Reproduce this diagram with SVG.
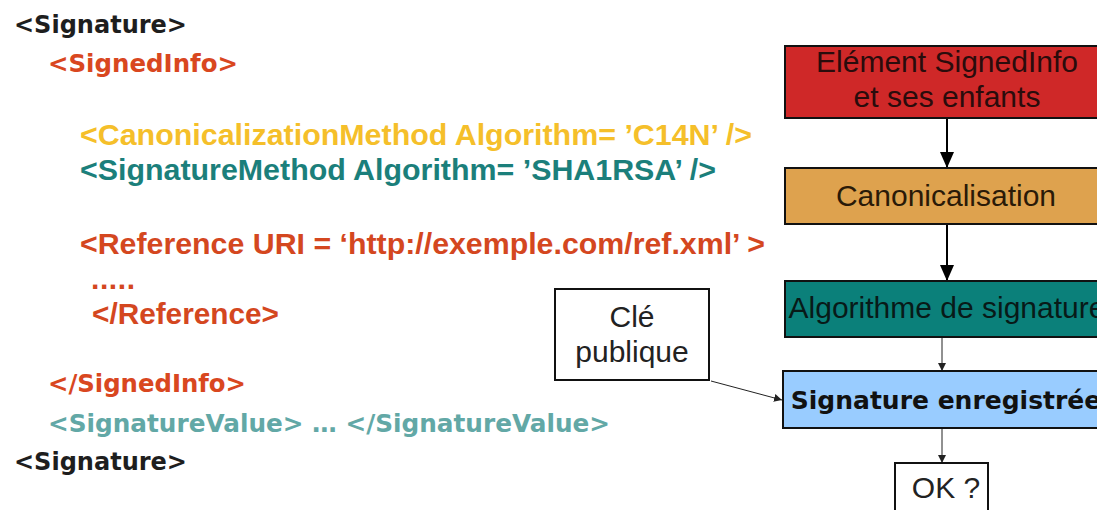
<svg xmlns="http://www.w3.org/2000/svg" width="1097" height="510" viewBox="0 0 1097 510">
  <style>
    .xmlA { font-family: "DejaVu Sans", "Verdana", sans-serif; font-weight: bold; font-size: 24px; }
    .xmlB { font-family: "Liberation Sans", Arial, sans-serif; font-weight: bold; font-size: 30px; }
    .lbl { font-family: "Liberation Sans", Arial, sans-serif; font-size: 30px; text-anchor: middle; }
    .lblB { font-family: "DejaVu Sans", "Verdana", sans-serif; font-weight: bold; font-size: 25px; text-anchor: middle; }
    .box { stroke: #111; stroke-width: 2; }
    .thick { stroke: #000; stroke-width: 2; fill: none; }
    .thin { stroke: #222; stroke-width: 1; fill: none; }
  </style>
  <defs>
    <marker id="headBig" markerUnits="userSpaceOnUse" viewBox="0 0 16 14" markerWidth="16" markerHeight="14" refX="16" refY="7" orient="auto">
      <path d="M0,0 L16,7 L0,14 Z" fill="#000"/>
    </marker>
    <marker id="headSmall" markerUnits="userSpaceOnUse" viewBox="0 0 8 8" markerWidth="8" markerHeight="8" refX="8" refY="4" orient="auto">
      <path d="M0,0 L8,4 L0,8 Z" fill="#222"/>
    </marker>
  </defs>

  <rect width="1097" height="510" fill="#fff"/>

  <!-- XML listing -->
  <g id="xml-listing">
    <text class="xmlA" x="14" y="33" fill="#1e1e1e" textLength="173" lengthAdjust="spacingAndGlyphs">&lt;Signature&gt;</text>
    <text class="xmlA" x="48" y="72" fill="#d9471f" textLength="190" lengthAdjust="spacingAndGlyphs">&lt;SignedInfo&gt;</text>
    <text class="xmlB" x="80" y="145" fill="#f5bf2a" textLength="672" lengthAdjust="spacingAndGlyphs">&lt;CanonicalizationMethod Algorithm= ’C14N’ /&gt;</text>
    <text class="xmlB" x="80" y="180" fill="#1b7f7b" textLength="636" lengthAdjust="spacingAndGlyphs">&lt;SignatureMethod Algorithm= ’SHA1RSA’ /&gt;</text>
    <text class="xmlB" x="80" y="254" fill="#d4471f" textLength="685" lengthAdjust="spacingAndGlyphs">&lt;Reference URI = ‘http://exemple.com/ref.xml’ &gt;</text>
    <text class="xmlB" x="91" y="289" fill="#d4471f" font-size="18" textLength="44" lengthAdjust="spacing">.....</text>
    <text class="xmlB" x="92" y="324" fill="#d4471f" textLength="187" lengthAdjust="spacingAndGlyphs">&lt;/Reference&gt;</text>
    <text class="xmlA" x="48" y="392" fill="#d9471f" textLength="198" lengthAdjust="spacingAndGlyphs">&lt;/SignedInfo&gt;</text>
    <text class="xmlA" x="48" y="432" fill="#62a8a6" textLength="562" lengthAdjust="spacingAndGlyphs">&lt;SignatureValue&gt; … &lt;/SignatureValue&gt;</text>
    <text class="xmlA" x="14" y="470" fill="#1e1e1e" textLength="173" lengthAdjust="spacingAndGlyphs">&lt;Signature&gt;</text>
  </g>

  <!-- connectors -->
  <g id="connectors">
    <line class="thick" x1="947" y1="118" x2="947" y2="168" marker-end="url(#headBig)"/>
    <line class="thick" x1="947" y1="224" x2="947" y2="281" marker-end="url(#headBig)"/>
    <line class="thin" x1="942" y1="337" x2="942" y2="371" marker-end="url(#headSmall)"/>
    <line class="thin" x1="942" y1="428" x2="942" y2="463" marker-end="url(#headSmall)"/>
    <line class="thin" x1="711" y1="381" x2="782" y2="400" stroke="#333" marker-end="url(#headSmall)"/>
  </g>

  <!-- flow nodes -->
  <g id="node-signedinfo">
    <rect class="box" x="785" y="46" width="324" height="72" fill="#cf2828"/>
    <text class="lbl" x="947" y="72" fill="#2a0c0c">Elément SignedInfo</text>
    <text class="lbl" x="947" y="107" fill="#2a0c0c">et ses enfants</text>
  </g>

  <g id="node-canonicalisation">
    <rect class="box" x="785" y="168" width="324" height="56" fill="#dea24e"/>
    <text class="lbl" x="946" y="206" fill="#2a1a08">Canonicalisation</text>
  </g>

  <g id="node-algorithme">
    <rect class="box" x="785" y="281" width="324" height="56" fill="#0b807a"/>
    <text class="lbl" x="947" y="318" fill="#081a18">Algorithme de signature</text>
  </g>

  <g id="node-signature">
    <rect class="box" x="783" y="371" width="326" height="57" fill="#99ccff"/>
    <text class="lblB" x="946" y="409" fill="#111">Signature enregistrée</text>
  </g>

  <g id="node-ok">
    <rect class="box" x="895" y="463" width="93" height="60" fill="#fff"/>
    <text class="lbl" x="946" y="498" fill="#222">OK ?</text>
  </g>

  <g id="node-cle">
    <rect class="box" x="555" y="289" width="154" height="91" fill="#fff"/>
    <text class="lbl" x="632" y="327" fill="#222">Clé</text>
    <text class="lbl" x="632" y="362" fill="#222">publique</text>
  </g>
</svg>
